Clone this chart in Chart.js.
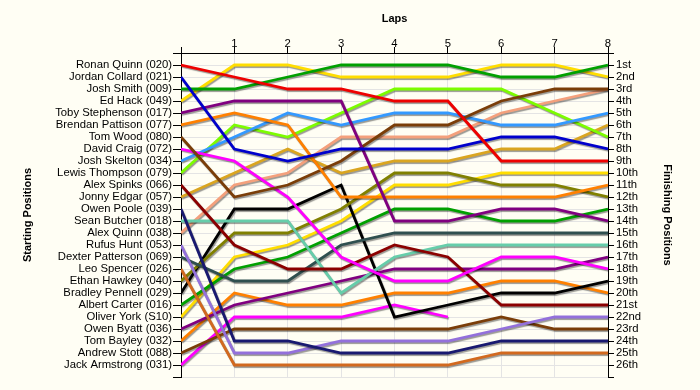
<!DOCTYPE html>
<html>
<head>
<meta charset="utf-8">
<script src="https://cdn.jsdelivr.net/npm/chart.js@4/dist/chart.umd.min.js"></script>
<style>
    html, body { margin: 0; padding: 0; background: #fffef4; }
    #lap-chart { display: block; }
</style>
</head>
<body>
<canvas id="lap-chart" width="700" height="390"></canvas>
<script>
    const laps = [0, 1, 2, 3, 4, 5, 6, 7, 8];

    const drivers = [
        "Ronan Quinn (020)", "Jordan Collard (021)", "Josh Smith (009)", "Ed Hack (049)",
        "Toby Stephenson (017)", "Brendan Pattison (077)", "Tom Wood (080)", "David Craig (072)",
        "Josh Skelton (034)", "Lewis Thompson (079)", "Alex Spinks (066)", "Jonny Edgar (057)",
        "Owen Poole (039)", "Sean Butcher (018)", "Alex Quinn (038)", "Rufus Hunt (053)",
        "Dexter Patterson (069)", "Leo Spencer (026)", "Ethan Hawkey (040)", "Bradley Pennell (029)",
        "Albert Carter (016)", "Oliver York (S10)", "Owen Byatt (036)", "Tom Bayley (032)",
        "Andrew Stott (088)", "Jack Armstrong (031)"
    ];

    const finishLabels = [
        "1st", "2nd", "3rd", "4th", "5th", "6th", "7th", "8th", "9th", "10th",
        "11th", "12th", "13th", "14th", "15th", "16th", "17th", "18th", "19th", "20th",
        "21st", "22nd", "23rd", "24th", "25th", "26th"
    ];

    // position of each driver after each lap (lap 0 = grid)
    const positions = [
        [1, 2, 3, 3, 4, 4, 9, 9, 9],
        [2, 8, 9, 8, 8, 8, 7, 7, 8],
        [3, 3, 2, 1, 1, 1, 2, 2, 1],
        [4, 1, 1, 2, 2, 2, 1, 1, 2],
        [5, 4, 4, 4, 14, 14, 13, 13, 14],
        [6, 5, 6, 12, 12, 12, 12, 12, 11],
        [7, 12, 11, 9, 6, 6, 4, 3, 3],
        [8, 9, 12, 17, 19, 19, 17, 17, 18],
        [9, 7, 5, 6, 5, 5, 6, 6, 5],
        [10, 6, 7, 5, 3, 3, 3, 5, 7],
        [11, 16, 18, 18, 16, 17, 21, 21, 21],
        [12, 10, 8, 10, 9, 9, 8, 8, 6],
        [13, 24, 24, 25, 25, 25, 24, 24, 24],
        [14, 14, 14, 20, 17, 16, 16, 16, 16],
        [15, 11, 10, 7, 7, 7, 5, 4, 3],
        [16, 25, 25, 24, 24, 24, 23, 22, 22],
        [17, 19, 19, 16, 15, 15, 15, 15, 15],
        [18, 26, 26, 26, 26, 26, 25, 25, 25],
        [19, 15, 15, 13, 10, 10, 11, 11, 12],
        [20, 13, 13, 11, 22, 21, 20, 20, 19],
        [21, 18, 17, 15, 13, 13, 14, 14, 13],
        [22, 17, 16, 14, 11, 11, 10, 10, 10],
        [23, 21, 20, 19, 18, 18, 18, 18, 17],
        [24, 20, 21, 21, 20, 20, 19, 19, 20],
        [25, 23, 23, 23, 23, 23, 22, 23, 23],
        [26, 22, 22, 22, 21, 22, null, null, null]
    ];

    const palette = [
        "#ee0000", "#0000cc", "#00a000", "#ffdd00", "#800080", "#ff8000", "#7a3d08", "#ff00ff",
        "#3399ff", "#7cfc00", "#8b0000", "#daa520", "#191970", "#66cdaa", "#f4a07c", "#9370db",
        "#2f4f4f", "#d2691e", "#808000", "#000000", "#00a000", "#ffdd00", "#800080", "#ff8000",
        "#7a3d08", "#ff00ff"
    ];

    const labelFont = { family: "'Liberation Sans', Arial, sans-serif", size: 11.3 };
    const titleFont = { family: "'Liberation Sans', Arial, sans-serif", size: 11, weight: "bold" };
    const gridColor = "#e4e4e4";

    const lineShadow = {
        id: "lineShadow",
        beforeDraw: (chart) => {
            const ctx = chart.ctx;
            ctx.save();
            ctx.fillStyle = "#fffef4";
            ctx.fillRect(0, 0, chart.width, chart.height);
            ctx.restore();
        },
        beforeDatasetsDraw: (chart) => {
            const ctx = chart.ctx;
            ctx.save();
            ctx.shadowColor = "rgba(0, 0, 0, 0.4)";
            ctx.shadowOffsetX = 1;
            ctx.shadowOffsetY = 1.5;
            ctx.shadowBlur = 1;
        },
        afterDatasetsDraw: (chart) => {
            chart.ctx.restore();
        }
    };

    const datasets = drivers.map((name, i) => ({
        label: name,
        data: laps.map((lap, j) => ({ x: lap, y: positions[i][j] })),
        borderColor: palette[i],
        backgroundColor: palette[i],
        borderWidth: 2.8,
        pointRadius: 0,
        tension: 0,
        fill: false,
        spanGaps: false,
        yAxisID: "y"
    }));

    new Chart(document.getElementById("lap-chart"), {
        type: "line",
        data: { datasets },
        options: {
            responsive: false,
            animation: false,
            layout: { padding: { left: 0, right: 0, top: 0, bottom: 13 } },
            plugins: {
                legend: { display: false },
                tooltip: { enabled: false }
            },
            scales: {
                x: {
                    type: "linear",
                    position: "top",
                    min: 0,
                    max: 8,
                    ticks: {
                        stepSize: 1,
                        autoSkip: false,
                        color: "#000",
                        font: labelFont,
                        padding: -4,
                        maxRotation: 0,
                        callback: (v) => (v === 0 ? "" : v)
                    },
                    grid: { color: gridColor, tickColor: "#000", tickLength: 6 },
                    border: { color: "#000", width: 1 },
                    title: { display: true, text: "Laps", color: "#000", font: titleFont, padding: { top: 12, bottom: 0 } },
                    afterFit: (scale) => { scale.height = 53; }
                },
                y: {
                    type: "linear",
                    position: "left",
                    reverse: true,
                    min: 0,
                    max: 27,
                    ticks: {
                        stepSize: 1,
                        autoSkip: false,
                        color: "#000",
                        font: labelFont,
                        padding: 1,
                        callback: (v) => drivers[v - 1] || ""
                    },
                    grid: { color: gridColor, tickColor: "#000", tickLength: 8 },
                    border: { color: "#000", width: 1 },
                    title: { display: true, text: "Starting Positions", color: "#000", font: titleFont, padding: { top: 21, bottom: 0 } },
                    afterFit: (scale) => { scale.width = 181; }
                },
                y2: {
                    type: "linear",
                    position: "right",
                    reverse: true,
                    min: 0,
                    max: 27,
                    ticks: {
                        stepSize: 1,
                        autoSkip: false,
                        color: "#000",
                        font: labelFont,
                        padding: 2,
                        callback: (v) => finishLabels[v - 1] || ""
                    },
                    grid: { drawOnChartArea: false, tickColor: "#000", tickLength: 6 },
                    border: { color: "#000", width: 1 },
                    title: { display: true, text: "Finishing Positions", color: "#000", font: titleFont, padding: { top: 26, bottom: 0 } },
                    afterFit: (scale) => { scale.width = 92; }
                }
            }
        },
        plugins: [lineShadow]
    });
</script>
</body>
</html>
